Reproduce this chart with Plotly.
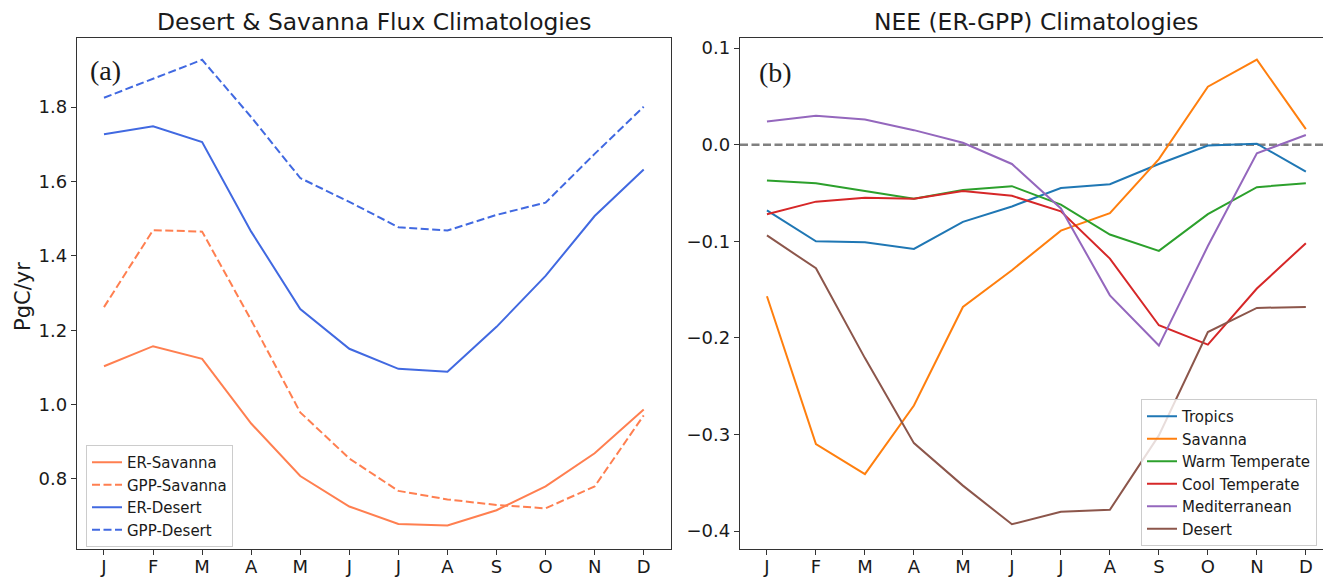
import plotly.graph_objects as go

months = ["J", "F", "M", "A", "M", "J", "J", "A", "S", "O", "N", "D"]
x_idx = list(range(12))

# Panel (a): Desert & Savanna flux climatologies (PgC/yr)
er_savanna = [1.103, 1.157, 1.123, 0.949, 0.808, 0.726, 0.679, 0.675, 0.716, 0.780, 0.869, 0.987]
gpp_savanna = [1.262, 1.469, 1.465, 1.227, 0.979, 0.855, 0.768, 0.745, 0.730, 0.721, 0.780, 0.971]
er_desert = [1.727, 1.748, 1.706, 1.465, 1.257, 1.150, 1.096, 1.088, 1.209, 1.346, 1.507, 1.632]
gpp_desert = [1.825, 1.877, 1.927, 1.773, 1.609, 1.545, 1.477, 1.468, 1.510, 1.543, 1.674, 1.801]

# Panel (b): NEE (ER-GPP) climatologies
nee_tropics = [-0.068, -0.100, -0.101, -0.108, -0.080, -0.064, -0.045, -0.041, -0.020, -0.001, 0.001, -0.028]
nee_savanna = [-0.157, -0.310, -0.341, -0.270, -0.168, -0.130, -0.089, -0.071, -0.015, 0.060, 0.088, 0.016]
nee_warm = [-0.037, -0.040, -0.048, -0.056, -0.047, -0.043, -0.062, -0.093, -0.110, -0.072, -0.044, -0.040]
nee_cool = [-0.072, -0.059, -0.055, -0.056, -0.048, -0.053, -0.069, -0.118, -0.187, -0.207, -0.149, -0.102]
nee_med = [0.024, 0.030, 0.026, 0.015, 0.002, -0.020, -0.066, -0.156, -0.208, -0.105, -0.009, 0.010]
nee_desert = [-0.094, -0.128, -0.221, -0.309, -0.353, -0.393, -0.380, -0.378, -0.301, -0.194, -0.169, -0.168]

left_ticks = [0.8, 1.0, 1.2, 1.4, 1.6, 1.8]
right_ticks = [-0.4, -0.3, -0.2, -0.1, 0.0, 0.1]

W, H = 1323, 577
FONT = "DejaVu Sans"
AXC = "#333333"
DASH = "8px,3.5px"

fig = go.Figure()

left_series = [
    ("ER-Savanna", er_savanna, "#FF7F50", "solid"),
    ("GPP-Savanna", gpp_savanna, "#FF7F50", DASH),
    ("ER-Desert", er_desert, "#4169E1", "solid"),
    ("GPP-Desert", gpp_desert, "#4169E1", DASH),
]
for name, ys, col, dash in left_series:
    fig.add_trace(go.Scatter(x=x_idx, y=ys, name=name, mode="lines",
                             line=dict(color=col, width=2, dash=dash),
                             xaxis="x", yaxis="y", legend="legend"))

right_series = [
    ("Tropics", nee_tropics, "#1f77b4"),
    ("Savanna", nee_savanna, "#ff7f0e"),
    ("Warm Temperate", nee_warm, "#2ca02c"),
    ("Cool Temperate", nee_cool, "#d62728"),
    ("Mediterranean", nee_med, "#9467bd"),
    ("Desert", nee_desert, "#8c564b"),
]
for name, ys, col in right_series:
    fig.add_trace(go.Scatter(x=x_idx, y=ys, name=name, mode="lines",
                             line=dict(color=col, width=2),
                             xaxis="x2", yaxis="y2", legend="legend2"))

# zero reference line in panel (b)
fig.add_shape(type="line", xref="x2 domain", yref="y2", x0=0, x1=1, y0=0, y1=0,
              line=dict(color="#808080", width=2.5, dash="8px,3.5px"), layer="below")

common_x = dict(tickvals=x_idx, ticktext=months, ticks="outside", ticklen=5,
                tickwidth=1.2, tickcolor=AXC, showline=True, linecolor=AXC,
                linewidth=1.3, showgrid=False, zeroline=False, ticklabelstandoff=-4,
                tickfont=dict(size=18, color="#1a1a1a", family=FONT), automargin=False)
common_y = dict(ticks="outside", ticklen=5, tickwidth=1.2, tickcolor=AXC,
                showline=True, linecolor=AXC, linewidth=1.3, showgrid=False,
                zeroline=False, tickformat=".1f",
                tickfont=dict(size=18, color="#1a1a1a", family=FONT), automargin=False)

px = lambda v: v / W
py = lambda v: (549 - v) / 511

fig.update_layout(
    width=W, height=H,
    margin=dict(l=0, r=0, t=38, b=28),
    paper_bgcolor="white", plot_bgcolor="white",
    font=dict(family=FONT, color="#1a1a1a"),
    xaxis=dict(domain=[px(77), px(670.7)], range=[-0.55, 11.55], anchor="y",
               mirror=True, **common_x),
    yaxis=dict(domain=[0, 1], range=[0.6117, 1.9856], anchor="x", tickvals=left_ticks,
               mirror=True, **common_y),
    xaxis2=dict(domain=[px(740), 1.0], range=[-0.55, 11.35], anchor="y2",
                mirror=True, **common_x),
    yaxis2=dict(domain=[0, 1], range=[-0.4186, 0.1104], anchor="x2", tickvals=right_ticks,
                mirror=False, **common_y),
    legend=dict(x=px(86), y=py(445), xanchor="left", yanchor="top",
                bgcolor="rgba(255,255,255,0.8)", bordercolor="#cccccc", borderwidth=1,
                font=dict(size=15, family=FONT, color="#1a1a1a")),
    legend2=dict(x=px(1141), y=py(399), xanchor="left", yanchor="top",
                 bgcolor="rgba(255,255,255,0.8)", bordercolor="#cccccc", borderwidth=1,
                 font=dict(size=15, family=FONT, color="#1a1a1a")),
    showlegend=True,
)

annots = [
    dict(text="Desert & Savanna Flux Climatologies", x=px(374), y=py(22), size=23.4, fam=FONT),
    dict(text="NEE (ER-GPP) Climatologies", x=px(1036), y=py(22), size=23.4, fam=FONT),
    dict(text="(a)", x=px(105.5), y=py(70), size=28, fam="Liberation Serif"),
    dict(text="(b)", x=px(775), y=py(72), size=28, fam="Liberation Serif"),
]
for a in annots:
    fig.add_annotation(text=a["text"], x=a["x"], y=a["y"], xref="paper", yref="paper",
                       xanchor="center", yanchor="middle", showarrow=False,
                       font=dict(size=a["size"], family=a["fam"], color="#1a1a1a"))

fig.add_annotation(text="PgC/yr", x=px(23), y=py(297), xref="paper", yref="paper",
                   xanchor="center", yanchor="middle", showarrow=False, textangle=-90,
                   font=dict(size=21, family=FONT, color="#1a1a1a"))

fig.write_html("out.html")
